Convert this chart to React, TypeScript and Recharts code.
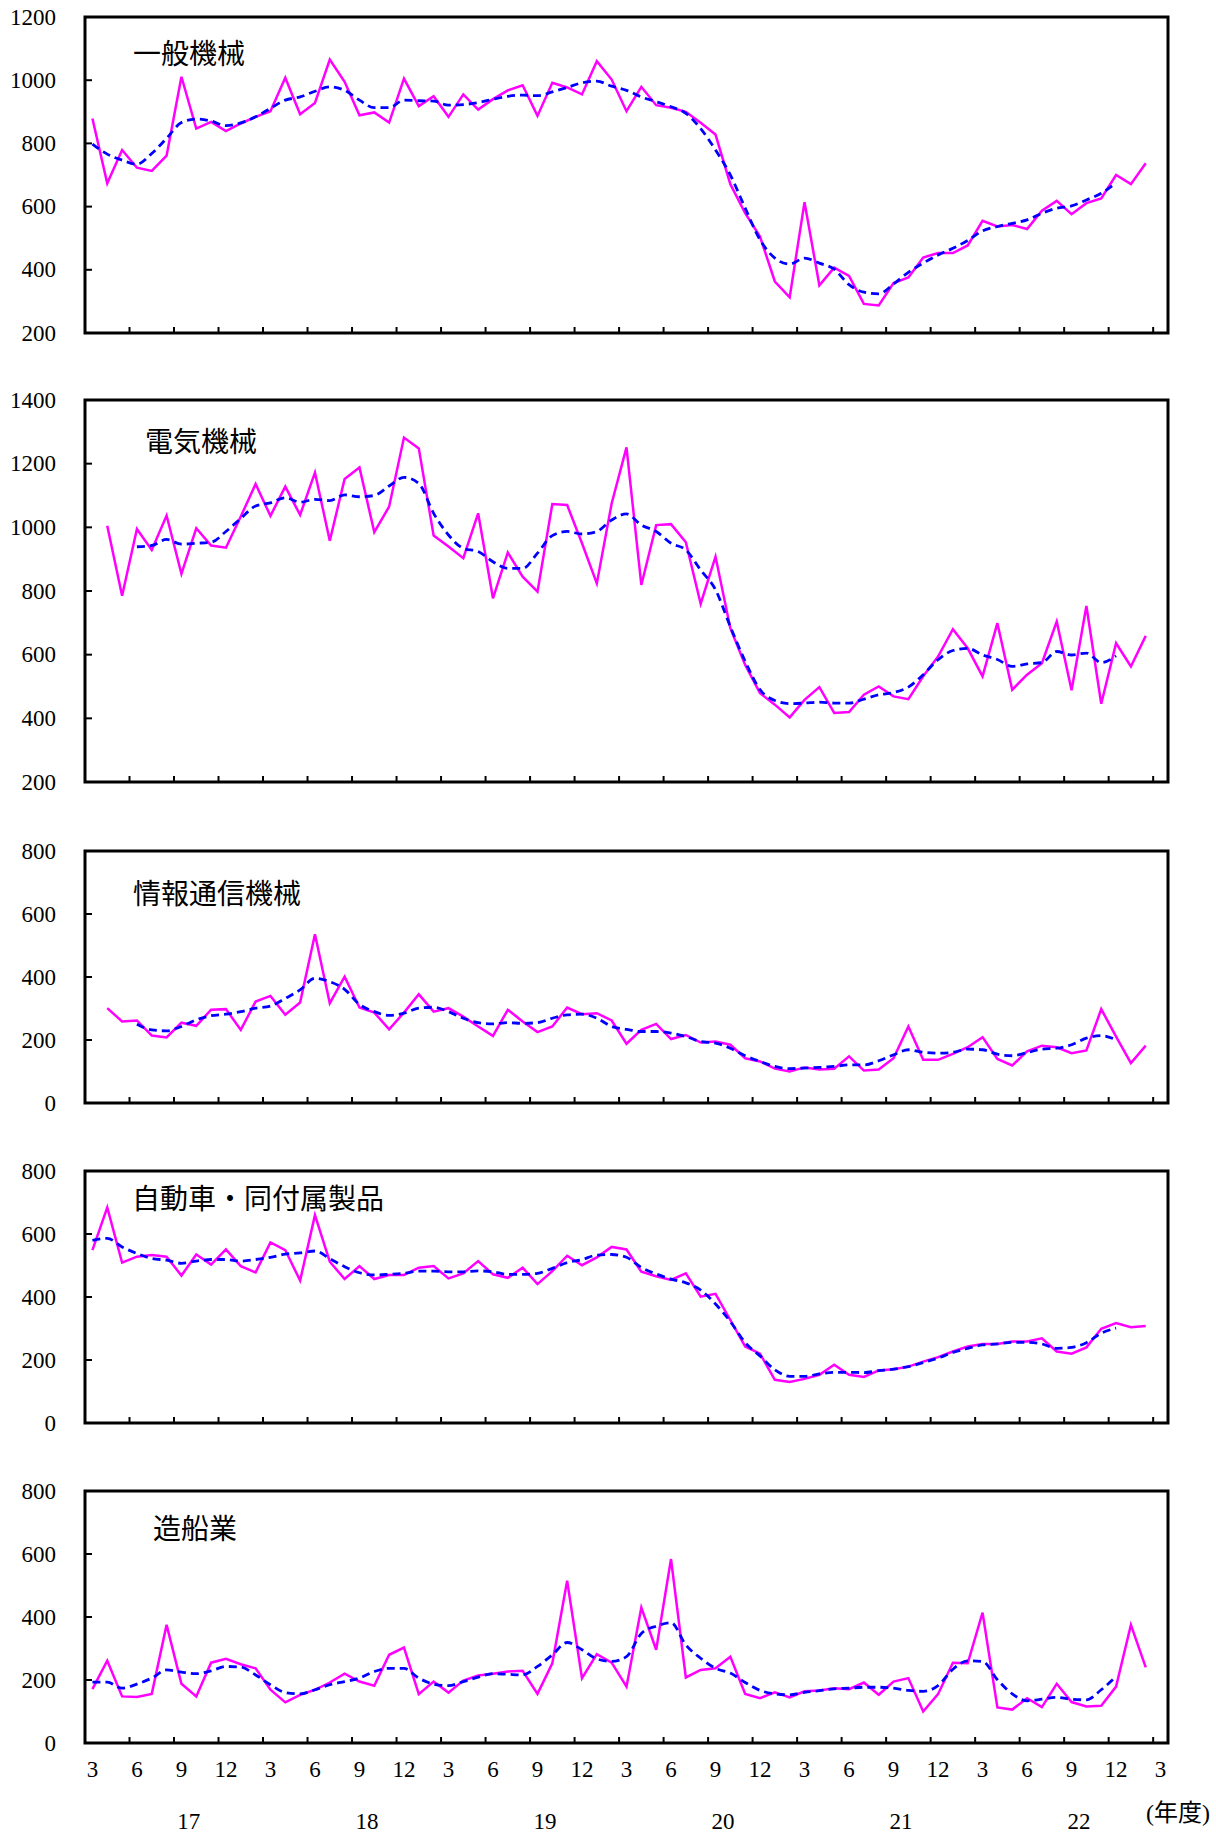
import React from "react";
import { LineChart, Line, XAxis, YAxis, ReferenceArea } from "recharts";

// x tick labels (every 3 months, Mar 2017 .. Mar 2023) and fiscal years
const monthTickLabels = [
  "3", "6", "9", "12", "3", "6", "9", "12", "3", "6", "9", "12", "3",
  "6", "9", "12", "3", "6", "9", "12", "3", "6", "9", "12", "3",
];
const yearLabels = ["17", "18", "19", "20", "21", "22"];

// 一般機械
const generalMachinery = [
  879, 674, 779, 723, 713, 761, 1011, 847, 868, 839, 863, 884, 902, 1008, 892, 928, 1065, 995,
  889, 898, 866, 1005, 918, 949, 884, 955, 907, 940, 968, 984, 887, 992, 977, 955, 1060, 1002,
  902, 979, 921, 913, 900, 865, 828, 671, 579, 505, 363, 313, 614, 351, 407, 381, 292, 287,
  358, 376, 439, 453, 453, 477, 555, 537, 542, 529, 587, 618, 576, 611, 626, 700, 671, 737,
];
const generalMachineryTrend = [
  798, 766, 747, 734, 768, 816, 866, 877, 871, 856, 865, 884, 911, 937, 947, 965, 979, 968,
  937, 913, 913, 937, 935, 934, 921, 923, 929, 940, 949, 953, 951, 963, 977, 992, 997, 981,
  968, 947, 932, 916, 895, 847, 779, 700, 595, 495, 437, 418, 437, 421, 402, 353, 329, 324,
  355, 392, 421, 447, 468, 493, 523, 537, 547, 558, 579, 595, 602, 621, 642, 676, null, null,
];

// 電気機械
const electricalMachinery = [
  null, 1005, 785, 995, 929, 1037, 854, 997, 943, 936, 1034, 1136, 1036, 1128, 1039, 1172, 958, 1152,
  1188, 985, 1065, 1282, 1248, 974, 940, 903, 1044, 777, 921, 845, 798, 1073, 1070, 950, 824, 1075,
  1251, 819, 1007, 1010, 953, 760, 908, 683, 568, 479, 443, 403, 458, 498, 417, 420, 474, 500,
  469, 460, 532, 594, 680, 620, 532, 699, 490, 537, 573, 704, 488, 753, 446, 636, 563, 659,
];
const electricalMachineryTrend = [
  null, null, null, 939, 943, 962, 947, 950, 953, 987, 1028, 1067, 1077, 1093, 1079, 1088, 1084, 1102,
  1096, 1100, 1130, 1157, 1138, 1044, 976, 934, 924, 892, 871, 871, 919, 974, 987, 979, 987, 1023,
  1042, 1007, 987, 950, 929, 866, 804, 688, 579, 490, 456, 446, 448, 451, 448, 448, 460, 474,
  481, 498, 537, 584, 613, 620, 599, 585, 563, 571, 575, 610, 599, 605, 575, 596, null, null,
];

// 情報通信機械
const ictMachinery = [
  null, 301, 259, 262, 214, 208, 255, 245, 296, 298, 232, 322, 340, 280, 319, 536, 317, 401,
  303, 287, 234, 287, 345, 290, 301, 274, 243, 213, 296, 259, 225, 243, 303, 282, 285, 262,
  188, 232, 251, 203, 216, 192, 195, 185, 142, 132, 109, 100, 113, 106, 109, 148, 103, 106,
  142, 243, 137, 137, 156, 177, 209, 140, 119, 164, 182, 177, 158, 167, 298, 211, 127, 182,
];
const ictMachineryTrend = [
  null, null, null, 250, 232, 229, 243, 264, 277, 282, 290, 301, 308, 332, 359, 396, 385, 361,
  313, 290, 278, 285, 301, 304, 290, 269, 255, 251, 255, 253, 255, 269, 280, 282, 269, 243,
  234, 227, 227, 222, 211, 195, 190, 174, 150, 132, 116, 109, 111, 113, 116, 121, 121, 134,
  153, 169, 161, 158, 161, 171, 169, 155, 150, 160, 171, 174, 185, 206, 214, 201, null, null,
];

// 自動車・同付属製品
const automobiles = [
  549, 684, 509, 528, 533, 528, 468, 535, 503, 551, 498, 478, 573, 549, 452, 660, 512, 457,
  498, 457, 470, 470, 493, 498, 459, 475, 514, 472, 461, 493, 441, 482, 531, 501, 526, 559,
  551, 480, 466, 454, 475, 401, 410, 327, 243, 220, 137, 130, 140, 153, 185, 153, 146, 167,
  171, 179, 195, 209, 227, 243, 251, 251, 259, 259, 269, 227, 220, 240, 299, 317, 304, 308,
];
const automobilesTrend = [
  580, 586, 559, 538, 522, 517, 507, 514, 519, 519, 514, 519, 526, 536, 540, 546, 522, 496,
  477, 470, 472, 475, 482, 482, 480, 480, 483, 480, 472, 472, 475, 491, 509, 519, 533, 535,
  526, 494, 473, 457, 445, 422, 378, 322, 255, 213, 169, 148, 148, 156, 161, 161, 160, 166,
  171, 179, 192, 206, 224, 237, 248, 251, 256, 256, 251, 237, 240, 255, 285, 301, null, null,
];

// 造船業
const shipbuilding = [
  171, 261, 148, 146, 156, 375, 188, 148, 255, 267, 250, 237, 169, 129, 153, 169, 192, 220,
  195, 182, 280, 303, 155, 195, 160, 198, 214, 220, 227, 229, 156, 253, 515, 206, 282, 255,
  179, 430, 296, 584, 208, 232, 237, 274, 156, 142, 161, 145, 164, 167, 174, 171, 192, 153,
  195, 206, 100, 155, 255, 253, 414, 113, 106, 142, 114, 188, 130, 116, 118, 179, 375, 240,
];
const shipbuildingTrend = [
  193, 193, 174, 187, 206, 232, 225, 220, 229, 243, 241, 216, 185, 160, 156, 169, 185, 195,
  206, 227, 237, 237, 206, 187, 182, 195, 209, 220, 218, 216, 243, 280, 319, 296, 267, 259,
  274, 348, 371, 382, 311, 269, 237, 222, 192, 167, 156, 153, 161, 166, 172, 174, 177, 177,
  174, 167, 164, 182, 234, 261, 259, 201, 156, 134, 139, 145, 139, 137, 169, 211, null, null,
];

const FONT = "'Liberation Serif', 'Noto Sans CJK JP', serif";
const CJK_FONT = "'Noto Sans CJK JP', sans-serif";
const WIDTH = 1216;
const PLOT_LEFT = 85;
const PLOT_RIGHT = 1168;
const TOP_PAD = 20;

const monthPositions = monthTickLabels.map((_, k) => k * 3);
const boundaryPositions = monthTickLabels.slice(1).map((_, k) => k * 3 + 2.5);
const yearPositions = yearLabels.map((_, k) => k * 12 + 6.5);
const X_DOMAIN = [-0.5, (monthTickLabels.length - 1) * 3 + 0.5];

const panels = [
  { title: "一般機械", values: generalMachinery, trend: generalMachineryTrend,
    yTicks: [200, 400, 600, 800, 1000, 1200], top: 17, bottom: 333, titleX: 133, titleY: 52 },
  { title: "電気機械", values: electricalMachinery, trend: electricalMachineryTrend,
    yTicks: [200, 400, 600, 800, 1000, 1200, 1400], top: 400, bottom: 782, titleX: 145, titleY: 440 },
  { title: "情報通信機械", values: ictMachinery, trend: ictMachineryTrend,
    yTicks: [0, 200, 400, 600, 800], top: 851, bottom: 1103, titleX: 133, titleY: 892 },
  { title: "自動車・同付属製品", values: automobiles, trend: automobilesTrend,
    yTicks: [0, 200, 400, 600, 800], top: 1171, bottom: 1423, titleX: 132, titleY: 1197 },
  { title: "造船業", values: shipbuilding, trend: shipbuildingTrend,
    yTicks: [0, 200, 400, 600, 800], top: 1491, bottom: 1743, titleX: 153, titleY: 1527 },
];

const makeXTick = (withLabels: boolean) => (props: any) => {
  const { x, y, payload } = props;
  const v = payload.value as number;
  if (Number.isInteger(v)) {
    if (!withLabels) return <g />;
    return (
      <text x={x} y={y + 26} textAnchor="middle" dominantBaseline="central"
        style={{ fontFamily: FONT }} fontSize={23} fill="#000">
        {monthTickLabels[v / 3]}
      </text>
    );
  }
  if ((v - 2.5) % 3 === 0) {
    return <line x1={x} x2={x} y1={y} y2={y - 6} stroke="#000" strokeWidth={2} />;
  }
  return (
    <text x={x} y={y + 78} textAnchor="middle" dominantBaseline="central"
      style={{ fontFamily: FONT }} fontSize={23} fill="#000">
      {yearLabels[(v - 6.5) / 12]}
    </text>
  );
};

const YTick = (props: any) => {
  const { x, y, payload } = props;
  return (
    <g>
      <line x1={x} x2={x + 7} y1={y} y2={y} stroke="#000" strokeWidth={2} />
      <text x={x - 29} y={y} textAnchor="end" dominantBaseline="central"
        style={{ fontFamily: FONT }} fontSize={23} fill="#000">
        {payload.value}
      </text>
    </g>
  );
};

const Panel = ({ p, last }: { p: (typeof panels)[number]; last: boolean }) => {
  const rows = p.values.map((v, i) => ({ i, v, t: p.trend[i] }));
  const axisH = last ? 91 : 22;
  const plotH = p.bottom - p.top;
  const yMin = p.yTicks[0];
  const yMax = p.yTicks[p.yTicks.length - 1];
  const xTicks = last
    ? [...monthPositions, ...boundaryPositions, ...yearPositions].sort((a, b) => a - b)
    : boundaryPositions;
  return (
    <div style={{ position: "absolute", left: 0, top: p.top - TOP_PAD }}>
      <LineChart width={WIDTH} height={TOP_PAD + plotH + axisH} data={rows}
        margin={{ top: TOP_PAD, right: WIDTH - PLOT_RIGHT, bottom: 0, left: 0 }}>
        <XAxis dataKey="i" type="number" domain={X_DOMAIN} ticks={xTicks} interval={0}
          allowDataOverflow height={axisH} tickSize={0} tickMargin={0}
          axisLine={false} tickLine={false} tick={makeXTick(last)} />
        <YAxis type="number" domain={[yMin, yMax]} ticks={p.yTicks} interval={0}
          allowDataOverflow width={PLOT_LEFT} tickSize={0} tickMargin={0}
          axisLine={false} tickLine={false} tick={YTick} />
        <ReferenceArea x1={X_DOMAIN[0]} x2={X_DOMAIN[1]} y1={yMin} y2={yMax}
          fill="none" fillOpacity={0} stroke="#000" strokeWidth={3} ifOverflow="visible" />
        <Line dataKey="v" type="linear" stroke="#ff00ff" strokeWidth={2.5} dot={false}
          activeDot={false} isAnimationActive={false} />
        <Line dataKey="t" type="monotone" stroke="#0000ff" strokeWidth={2.8}
          strokeDasharray="8 5" dot={false} activeDot={false} isAnimationActive={false} />
      </LineChart>
      <div style={{ position: "absolute", left: p.titleX, top: p.titleY - p.top + TOP_PAD - 15,
        fontFamily: CJK_FONT, fontSize: 28, lineHeight: "30px", color: "#000", whiteSpace: "nowrap" }}>
        {p.title}
      </div>
    </div>
  );
};

export default function App() {
  return (
    <div style={{ position: "absolute", left: 0, top: 0, width: WIDTH, height: 1834, background: "#fff" }}>
      {panels.map((p, k) => (
        <Panel key={p.title} p={p} last={k === panels.length - 1} />
      ))}
      <div style={{ position: "absolute", left: 1146, top: 1799, fontFamily: FONT,
        fontSize: 24, lineHeight: "28px", color: "#000", whiteSpace: "nowrap" }}>
        (年度)
      </div>
    </div>
  );
}
